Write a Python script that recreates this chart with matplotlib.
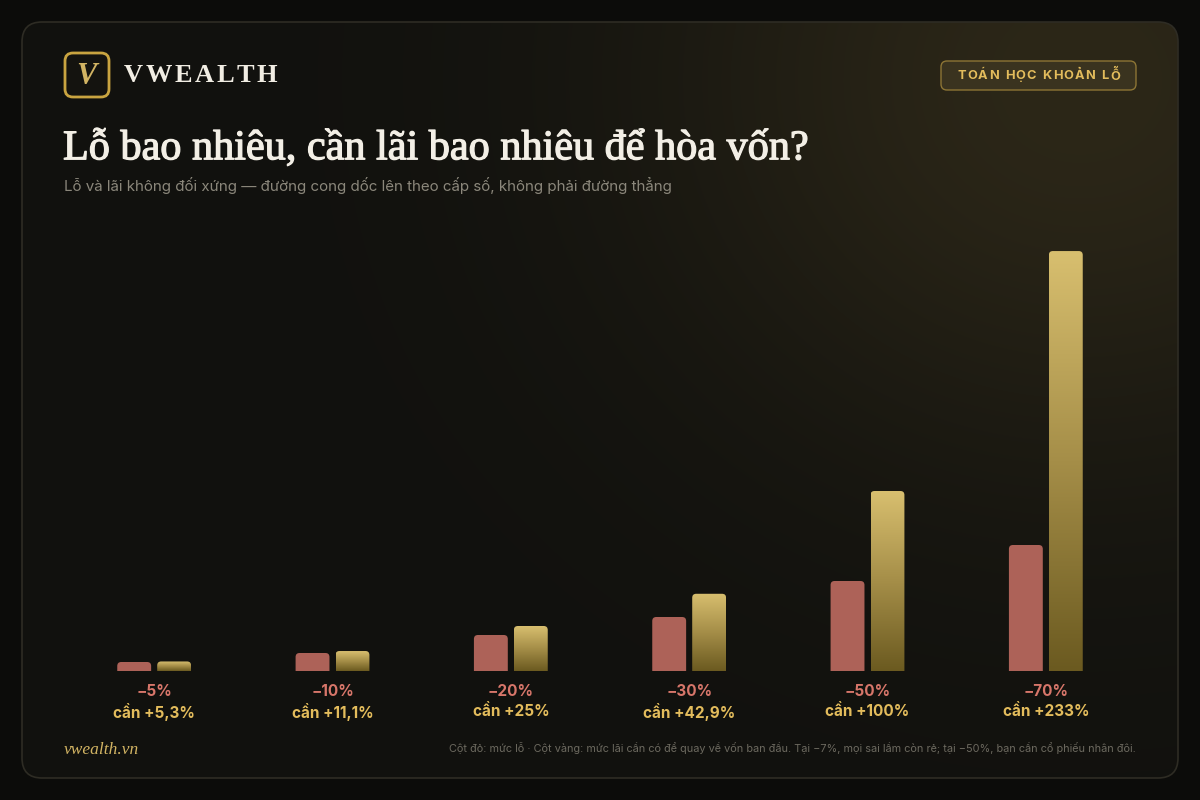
import numpy as np
import matplotlib
matplotlib.use("Agg")
import matplotlib.pyplot as plt
import matplotlib.patheffects as pe
from matplotlib.patches import FancyBboxPatch, PathPatch
from matplotlib.path import Path
from matplotlib.colors import LinearSegmentedColormap

# data
losses = [5, 10, 20, 30, 50, 70]
gains = [5.3, 11.1, 25, 42.9, 100, 233.3]
loss_labels = ["−5%", "−10%", "−20%", "−30%", "−50%", "−70%"]
gain_labels = ["cần +5,3%", "cần +11,1%", "cần +25%", "cần +42,9%", "cần +100%", "cần +233%"]

title = "Lỗ bao nhiêu, cần lãi bao nhiêu để hòa vốn?"
subtitle = "Lỗ và lãi không đối xứng — đường cong dốc lên theo cấp số, không phải đường thẳng"
badge = "TOÁN HỌC KHOẢN LỖ"
note = ("Cột đỏ: mức lỗ · Cột vàng: mức lãi cần có để quay về vốn ban đầu. "
        "Tại −7%, mọi sai lầm còn rẻ; tại −50%, bạn cần cổ phiếu nhân đôi.")

SANS = ["Inter", "DejaVu Sans"]
SERIF = ["Liberation Serif", "DejaVu Serif"]
RED = "#ad6258"
RED_TXT = "#d7766a"
GOLD_TXT = "#e3bc5c"
gold_cmap = LinearSegmentedColormap.from_list("gold", ["#6b5a20", "#a58e48", "#d8bf6f"])

W, H = 1200, 800
fig = plt.figure(figsize=(12, 8), dpi=100)
fig.patch.set_facecolor("#0c0c0a")

# background layer in pixel coords (y down)
bg = fig.add_axes([0, 0, 1, 1])
bg.set_xlim(0, W)
bg.set_ylim(H, 0)
bg.axis("off")

card = FancyBboxPatch((22, 22), 1156, 756, boxstyle="round,pad=0,rounding_size=20",
                      facecolor="none", edgecolor="#2e2c24", lw=1.2, zorder=3)
bg.add_patch(card)

yy, xx = np.mgrid[0:H, 0:W]
d = np.sqrt((xx - 1080) ** 2 + ((yy - 80) * 1.1) ** 2)
glow = np.exp(-(d / 420.0) ** 2)
base = np.array([17, 17, 14]) / 255.0
hot = np.array([44, 39, 24]) / 255.0
img = base + glow[..., None] * (hot - base)
im = bg.imshow(img, extent=(0, W, H, 0), aspect="auto", zorder=1)
clip_card = FancyBboxPatch((22, 22), 1156, 756, boxstyle="round,pad=0,rounding_size=20",
                           facecolor="none", edgecolor="none", transform=bg.transData)
im.set_clip_path(clip_card)
bg.set_xlim(0, W)
bg.set_ylim(H, 0)

renderer = fig.canvas.get_renderer()


def char_widths(s, **kw):
    ws = []
    for ch in s:
        t = bg.text(0, 0, ch if ch != " " else "n", **kw)
        w = t.get_window_extent(renderer=renderer).width
        t.remove()
        ws.append(w * (0.5 if ch == " " else 1.0))
    return ws


def spaced(x, y, s, gap, align="left", **kw):
    ws = char_widths(s, **kw)
    total = sum(ws) + gap * (len(s) - 1)
    if align == "center":
        x = x - total / 2
    for ch, w in zip(s, ws):
        if ch != " ":
            bg.text(x, y, ch, va="center", ha="left", zorder=5, **kw)
        x += w + gap


# logo
bg.add_patch(FancyBboxPatch((65, 53), 44, 44, boxstyle="round,pad=0,rounding_size=8",
                            facecolor="#14130f", edgecolor="#c9a440", lw=2, zorder=4))
bg.text(86, 77, "V", ha="center", va="center", fontsize=22, style="italic",
        weight="bold", family=SERIF, color="#d2b463", zorder=5)
spaced(124, 76, "VWEALTH", 2.6, fontsize=19, weight="bold", family=SERIF, color="#f1ede3")

# badge
bg.add_patch(FancyBboxPatch((941, 61), 195, 29, boxstyle="round,pad=0,rounding_size=6",
                            facecolor="#3a331f", edgecolor="#8d7535", lw=1, zorder=4))
spaced(1038.5, 76, badge, 1.2, align="center", fontsize=9.2, weight="bold",
       family=SANS, color="#e3bc5c")

# titles
bg.text(63, 149, title, ha="left", va="center", fontsize=30.4, family=SERIF,
        color="#f3efe6", zorder=5,
        path_effects=[pe.withStroke(linewidth=0.9, foreground="#f3efe6")])
bg.text(64, 186, subtitle, ha="left", va="center", fontsize=10.9, family=SANS,
        color="#8b877b", zorder=5)

# footer
bg.text(64, 750, "vwealth.vn", ha="left", va="center", fontsize=12.5, style="italic",
        family=SERIF, color="#d2b463", zorder=5)
bg.text(1136, 748, note, ha="right", va="center", fontsize=7.85, family=SANS,
        color="#6c695f", zorder=5)

# chart
ax = fig.add_axes([65 / W, 129 / H, 1070 / W, 450 / H])
ax.set_facecolor("none")
for s in ax.spines.values():
    s.set_visible(False)
ax.set_xticks([])
ax.set_yticks([])

x = np.arange(len(losses))
bw = 0.19
off = 0.112
xl, yl = (-0.5, len(losses) - 0.5), (0, 250)
red_bars = ax.bar(x - off, losses, bw, color=RED)
gold_bars = ax.bar(x + off, gains, bw, color="none")

px_x = 1070 / (xl[1] - xl[0])
px_y = 450 / (yl[1] - yl[0])
rx, ry0 = 4 / px_x, 4 / px_y


def top_round(rect):
    x0, w, h = rect.get_x(), rect.get_width(), rect.get_height()
    ry = min(ry0, h)
    verts = [(x0, 0), (x0, h - ry), (x0, h), (x0 + rx, h), (x0 + w - rx, h),
             (x0 + w, h), (x0 + w, h - ry), (x0 + w, 0), (x0, 0)]
    codes = [Path.MOVETO, Path.LINETO, Path.CURVE3, Path.CURVE3, Path.LINETO,
             Path.CURVE3, Path.CURVE3, Path.LINETO, Path.CLOSEPOLY]
    return Path(verts, codes)


for r in red_bars:
    ax.add_patch(PathPatch(top_round(r), facecolor=RED, edgecolor="none", zorder=3))
    r.set_visible(False)

grad = np.linspace(0, 1, 256).reshape(-1, 1)
for r in gold_bars:
    p = PathPatch(top_round(r), facecolor="none", edgecolor="none", zorder=3)
    ax.add_patch(p)
    g = ax.imshow(grad, cmap=gold_cmap, origin="lower", aspect="auto", zorder=3,
                  extent=(r.get_x(), r.get_x() + r.get_width(), 0, r.get_height()))
    g.set_clip_path(p)
    r.set_visible(False)

ax.set_xlim(*xl)
ax.set_ylim(*yl)

for i in x:
    ax.annotate(loss_labels[i], (i, 0), xytext=(0, -20), textcoords="offset pixels",
                ha="center", va="center", fontsize=11, weight="bold", family=SANS,
                color=RED_TXT, annotation_clip=False)
    ax.annotate(gain_labels[i], (i, 0), xytext=(0, -41), textcoords="offset pixels",
                ha="center", va="center", fontsize=11, weight="bold", family=SANS,
                color=GOLD_TXT, annotation_clip=False)

fig.savefig("out.png", dpi=100, facecolor=fig.get_facecolor())
